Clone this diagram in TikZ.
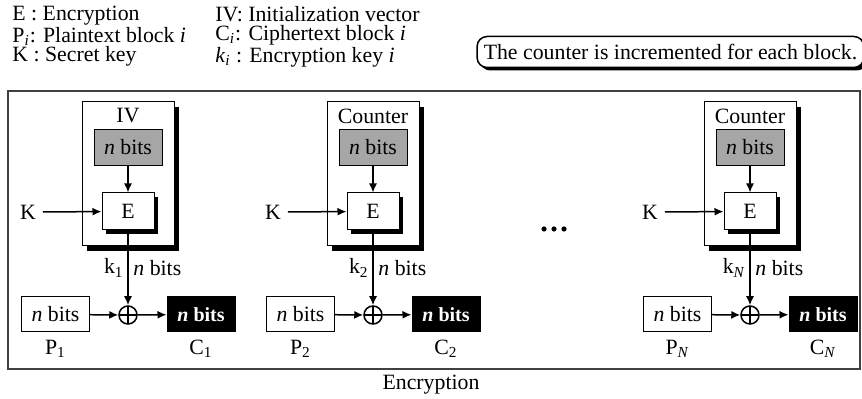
\documentclass[tikz,border=0pt]{standalone}
\usepackage{fontspec}
\setmainfont{Liberation Serif}
\usetikzlibrary{arrows.meta, positioning, shadows}

\tikzset{
  box/.style={draw, line width=0.5pt, minimum width=34pt, minimum height=18pt, inner sep=0pt},
  graybox/.style={box, fill=black!35},
  blackbox/.style={box, fill=black, text=white, font=\bfseries},
  legend/.style={anchor=north west, inner sep=0pt, align=left,
    font=\fontsize{10.9}{9.5}\selectfont},
  solidshadow/.style={drop shadow={shadow xshift=#1, shadow yshift=-#1, fill=black, opacity=1}},
  xorsign/.style={draw, circle, line width=0.75pt, minimum size=9pt, inner sep=0pt,
    path picture={\draw[line width=0.7pt] (path picture bounding box.north) -- (path picture bounding box.south)
      (path picture bounding box.west) -- (path picture bounding box.east);}},
  flow/.style={line width=0.75pt, -{Latex[length=4.5pt, width=4pt]}}
}

\begin{document}
\begin{tikzpicture}[x=0.5pt, y=-0.5pt, font=\fontsize{10.9}{12.8}\selectfont]
  \useasboundingbox (0,0) rectangle (862,399);

  % 图例
  \node[legend] (lgleft) at (12,6) {E : Encryption\\
    P\textsubscript{\textit{i}}: Plaintext block \textit{i}\\
    K : Secret key};
  \node[legend] (lgright) at (215,6) {IV: Initialization vector\\
    C\textsubscript{\textit{i}}: Ciphertext block \textit{i}\\
    \textit{k}\textsubscript{\textit{i}} : Encryption key \textit{i}};

  % 说明框
  \node[draw, line width=0.75pt, rounded corners=5pt, minimum width=189pt, minimum height=15.5pt,
    fill=white, solidshadow=1.5pt] (note) at (670.5,52) {The counter is incremented for each block.};

  % 外框
  \draw[black!75, line width=0.9pt] (8,91) rectangle (860,369);
  \node (title) at (431,385) {Encryption};

  % 三个分组
  \foreach \c/\t/\i/\s in {128/IV/1/1, 373/Counter/2/2, 750/Counter/N/\textit{N}} {
    \node[box, fill=white, minimum width=46pt, minimum height=72pt, solidshadow=2.5pt] (frame\i) at (\c,174) {};
    \node (ctr\i) at (\c,116) {\t};
    \node[graybox] (bits\i) at (\c,147.5) {\textit{n} bits};
    \node[box, fill=white, minimum width=26pt, minimum height=18.5pt, solidshadow=2pt] (E\i) at (\c,211.5) {E};
    \node (K\i) at ({\c-100},212) {K};
    \node[xorsign] (xor\i) at (\c,315) {};
    \node[box, minimum height=17.5pt] (P\i) at ({\c-72.5},314.5) {\textit{n} bits};
    \node[blackbox, minimum height=17.5pt] (C\i) at ({\c+73},314.5) {\textit{n} bits};
    \node (Plab\i) at ({\c-72.5},349) {P\textsubscript{\s}};
    \node (Clab\i) at ({\c+73},349) {C\textsubscript{\s}};
    \node[anchor=east, inner sep=1pt] (k\i) at ({\c-2},268) {k\textsubscript{\s}};
    \node[anchor=west, inner sep=1pt] (nb\i) at ({\c+3},268) {\textit{n} bits};

    \draw[flow] (bits\i) -- (E\i);
    \draw[flow] (K\i) -- (E\i);
    \draw[flow] (E\i) -- (xor\i);
    \draw[flow] (P\i) -- (xor\i);
    \draw[flow] (xor\i) -- (C\i);
  }

  % 省略号
  \foreach \x in {544,554,564}
    \fill (\x,229) circle (1.3pt);
\end{tikzpicture}
\end{document}
